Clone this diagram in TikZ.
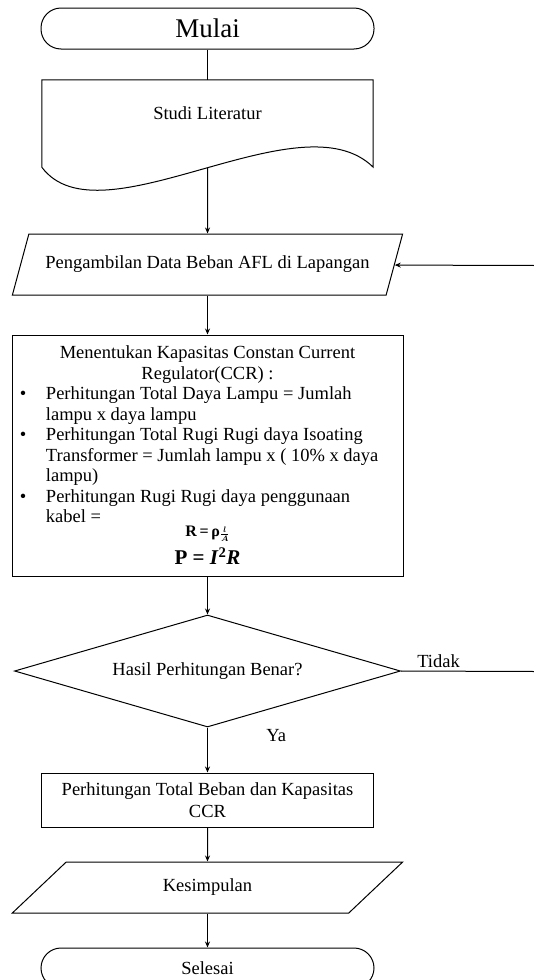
\documentclass[tikz,border=0pt]{standalone}
\usepackage{fontspec}
\setmainfont{Liberation Serif}
\usetikzlibrary{shapes.geometric,arrows.meta}
\newcommand{\bul}{\makebox[31pt][l]{\hspace{5pt}\textbullet}}
\newcommand{\ind}{\hspace*{31pt}}

\begin{document}
\begin{tikzpicture}[
    x=1pt, y=-1pt,
    thick/.style={line width=1pt},
    >={Stealth[length=6pt, width=5pt]},
    font=\fontsize{18.5}{20.5}\selectfont,
    terminal/.style={draw, thick, rectangle, rounded corners=20pt, minimum width=333pt, minimum height=41pt},
    process/.style={draw, thick, rectangle, align=flush center},
    data/.style={draw, thick, trapezium, trapezium stretches=true, minimum width=391pt, align=flush center},
    decision/.style={draw, thick, diamond, aspect=3.45, minimum width=386pt, minimum height=112pt, inner sep=0pt}
]
    \useasboundingbox (0,0) rectangle (534,980);

    % Start
    \node[terminal, font=\fontsize{27}{29}\selectfont] (mulai) at (207.5,28.5) {Mulai};

    % Literature study (document shape)
    \node[minimum width=331pt, minimum height=66pt] (doc) at (207.5,113) {Studi Literatur};
    \path (doc.south west) ++(0,21) coordinate (docL);
    \path (doc.south east) ++(0,21) coordinate (docR);
    \coordinate (docout) at (207.5,168);
    \draw[thick] (docL) -- (doc.north west) -- (doc.north east) -- (docR)
        .. controls (300,95) and (100,245) .. (docL);

    % Field data
    \node[data, trapezium left angle=57, trapezium right angle=123, minimum height=61pt] (par1) at (207.5,264.5)
        {Pengambilan Data Beban AFL di Lapangan};

    % CCR capacity
    \node[process, minimum width=391pt, minimum height=241pt, text width=385pt, inner xsep=3pt, align=flush left] (ccr) at (207.5,455.5) {%
        {\centering Menentukan Kapasitas Constan Current\\ Regulator(CCR) :\par}
        \bul Perhitungan Total Daya Lampu = Jumlah\\
        \ind lampu x daya lampu\\
        \bul Perhitungan Total Rugi Rugi daya Isoating\\
        \ind Transformer = Jumlah lampu x ( 10\% x daya\\
        \ind lampu)\\
        \bul Perhitungan Rugi Rugi daya penggunaan\\
        \ind kabel =\par
        {\centering\fontsize{16}{14}\selectfont\bfseries R\,=\,ρ{\fontsize{11}{11}\selectfont\boldmath$\frac{l}{A}$}\par}
        {\centering\fontsize{21}{28}\selectfont\bfseries P = \textit{I}\textsuperscript{2}\textit{R}\par}
    };

    % Check
    \node[decision] (dec) at (207.5,671) {Hasil Perhitungan Benar?};

    % Total load
    \node[process, minimum width=332pt, minimum height=54pt, text width=326pt, font=\fontsize{18.5}{22}\selectfont] (total) at (207.5,800)
        {Perhitungan Total Beban dan Kapasitas\\CCR};

    % Conclusion
    \node[data, trapezium left angle=52, trapezium right angle=128, minimum height=51pt] (kes) at (207.5,887.5) {Kesimpulan};

    % End
    \node[terminal, minimum height=40pt] (selesai) at (207.5,968) {Selesai};

    \coordinate (tidakR) at (535,671.5);
    \coordinate (backR) at (535,265.5);

    % Connections
    \draw[thick] (mulai) -- (doc);
    \draw[->, thick] (docout) -- (par1);
    \draw[->, thick] (par1) -- (ccr);
    \draw[->, thick] (ccr) -- (dec);
    \draw[->, thick] (dec) -- node[pos=0.18, right=55pt] {Ya} (total);
    \draw[->, thick] (total) -- (kes);
    \draw[->, thick] (kes) -- (selesai);
    \draw[->, thick] (dec.east) -- node[pos=0.28, above] {Tidak} (tidakR) -- (backR) -- (par1);

\end{tikzpicture}
\end{document}
